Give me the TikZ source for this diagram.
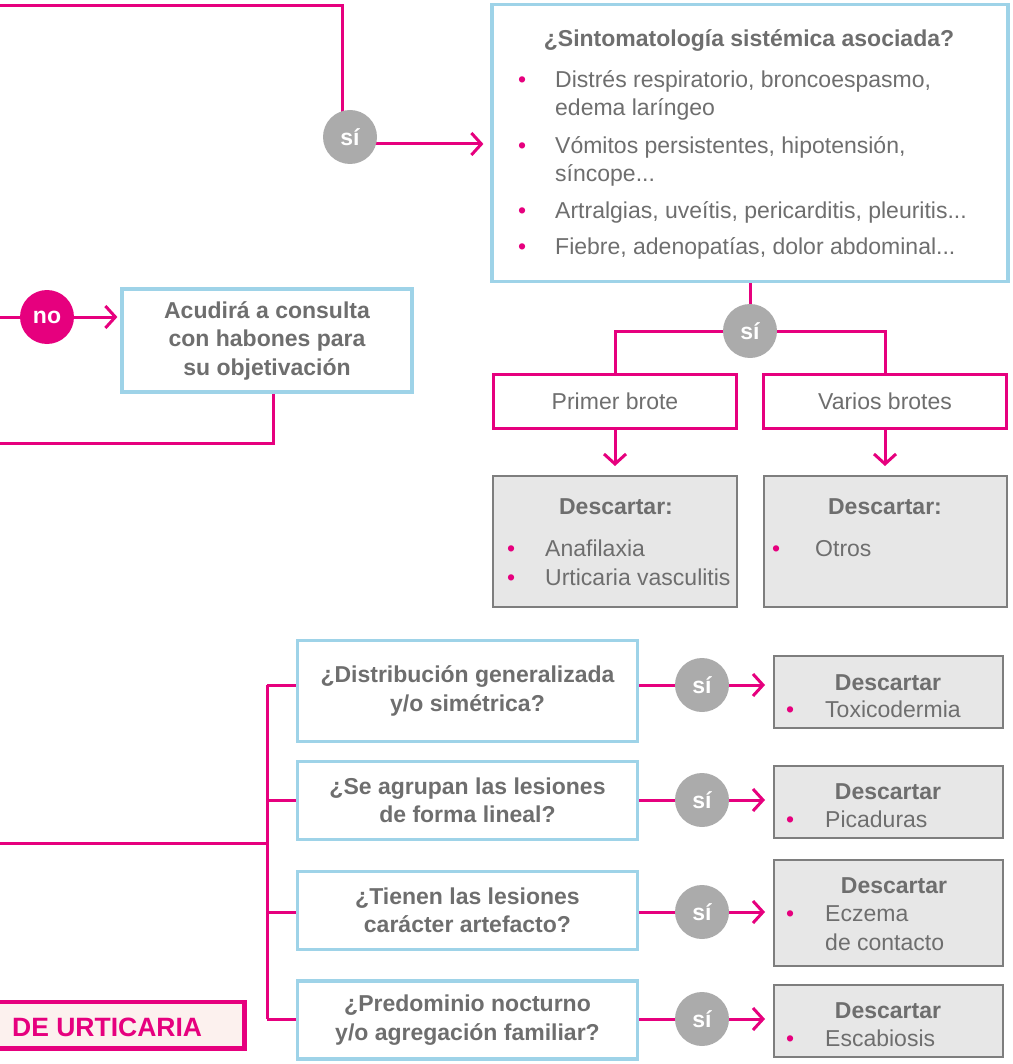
\documentclass[tikz,border=0pt]{standalone}
\usepackage{fontspec}
\setmainfont{Liberation Sans}
\usetikzlibrary{positioning, arrows.meta, backgrounds}

\definecolor{urpink}{HTML}{E6007E}
\definecolor{urblue}{HTML}{9ED3E8}
\definecolor{urgrey}{HTML}{ABABAB}
\definecolor{urtext}{HTML}{6E6E6E}
\definecolor{urfill}{HTML}{E7E7E7}
\definecolor{urframe}{HTML}{7E7E7E}
\definecolor{urtint}{HTML}{FCF1EE}

\newcommand{\urfont}{\fontsize{23}{28.5}\selectfont}
\newcommand{\dotitem}[1][30pt]{\llap{\textcolor{urpink}{\textbullet}\hspace{#1}}}

\tikzset{
    link/.style={draw=urpink, line width=3pt}, % pink connector
    go/.style={link, -{Straight Barb[length=10pt, width=22pt]}, shorten >=8pt}, % connector with open head
    question/.style={draw=urblue, line width=3.2pt, fill=white, inner sep=0pt, text=urtext, font=\urfont\bfseries, align=center}, % blue question box
    branch/.style={draw=urpink, line width=3pt, fill=white, inner sep=0pt, minimum width=243pt, minimum height=54pt, text=urtext, font=\urfont}, % pink box
    ruleout/.style={draw=urframe, line width=2pt, fill=urfill, inner sep=0pt}, % grey box
    yes/.style={circle, fill=urgrey, text=white, font=\urfont\bfseries, minimum size=54pt, inner sep=0pt}, % answer bubble
    nobub/.style={yes, fill=urpink},
    boxhead/.style={anchor=base, inner sep=0pt, text=urtext, font=\urfont\bfseries},
    body/.style={anchor=base west, inner sep=0pt, align=left, text=urtext, font=\urfont}, % base = last line
    banner/.style={draw=urpink, line width=4.5pt, fill=urtint, inner sep=0pt},
}

\begin{document}
\begin{tikzpicture}[x=1pt, y=-1pt]
\useasboundingbox (0,0) rectangle (1012,1064);
\clip (0,0) rectangle (1012,1064);

% systemic symptoms
\node[question, minimum width=516pt, minimum height=277pt] (sint) at (750,143) {};
\node[boxhead] (sinttitle) at (749,47) {¿Sintomatología sistémica asociada?};
\node[body] (sint1) at (555,116) {\dotitem[29pt]Distrés respiratorio, broncoespasmo,\\edema laríngeo};
\node[body] (sint2) at (555,182) {\dotitem[29pt]Vómitos persistentes, hipotensión,\\síncope...};
\node[body] (sint3) at (555,219) {\dotitem[29pt]Artralgias, uveítis, pericarditis, pleuritis...};
\node[body] (sint4) at (555,255) {\dotitem[29pt]Fiebre, adenopatías, dolor abdominal...};
\node[yes] (yestop) at (350,137) {sí};

% no wheals
\node[nobub] (no) at (47,317) {no};
\node[question, minimum width=290pt, minimum height=103pt] (acud) at (267,340.5) {Acudirá a consulta\\con habones para\\su objetivación};

% outbreaks
\node[yes] (yesmid) at (750,331) {sí};
\node[branch] (primer) at (615,401.5) {Primer brote};
\node[branch, right=24pt of primer] (varios) {Varios brotes};
\node[ruleout, minimum width=244pt, minimum height=131pt, below=45pt of primer] (dx1) {};
\node[ruleout, minimum width=243pt, minimum height=131pt, below=45pt of varios] (dx2) {};
\node[boxhead] (dx1head) at (616,514) {Descartar:};
\node[body] (dx1list) at (545,585) {\dotitem Anafilaxia\\\dotitem Urticaria vasculitis};
\node[boxhead] (dx2head) at (885,514) {Descartar:};
\node[body] (dx2list) at (815,556) {\dotitem[35pt]Otros};

% questions
\node[question, minimum width=340pt, minimum height=101pt] (q1) at (467.5,691) {¿Distribución generalizada\\y/o simétrica?};
\node[question, minimum width=340pt, minimum height=78pt] (q2) at (467.5,800.5) {¿Se agrupan las lesiones\\de forma lineal?};
\node[question, minimum width=340pt, minimum height=78pt] (q3) at (467.5,910.5) {¿Tienen las lesiones\\carácter artefacto?};
\node[question, minimum width=340pt, minimum height=78pt] (q4) at (467.5,1020) {¿Predominio nocturno\\y/o agregación familiar?};
\node[yes] (yes1) at (702,685) {sí};
\node[yes] (yes2) at (702,800) {sí};
\node[yes] (yes3) at (702,912) {sí};
\node[yes] (yes4) at (702,1019) {sí};
\node[ruleout, minimum width=229pt, minimum height=72pt] (r1) at (888.5,692) {};
\node[ruleout, minimum width=229pt, minimum height=72pt] (r2) at (888.5,802) {};
\node[ruleout, minimum width=229pt, minimum height=106pt] (r3) at (888.5,913) {};
\node[ruleout, minimum width=229pt, minimum height=72pt] (r4) at (888.5,1021) {};
\node[boxhead] (r1head) at (888,690) {Descartar};
\node[body] (r1list) at (825,717) {\dotitem[31pt]Toxicodermia};
\node[boxhead] (r2head) at (888,799) {Descartar};
\node[body] (r2list) at (825,827) {\dotitem[31pt]Picaduras};
\node[boxhead] (r3head) at (894,893) {Descartar};
\node[body] (r3list) at (825,950) {\dotitem[31pt]Eczema\\de contacto};
\node[boxhead] (r4head) at (888,1018) {Descartar};
\node[body] (r4list) at (825,1046) {\dotitem[31pt]Escabiosis};

% title
\node[banner, minimum width=345pt, minimum height=46.5pt] (title) at (72,1025) {};
\node[anchor=base west, inner sep=0pt, text=urpink, font=\fontsize{26.5}{30}\selectfont\bfseries] (titletext) at (12,1036.5) {DE URTICARIA};

\begin{scope}[on background layer]
\coordinate (topin) at (0,6);
\coordinate (noin) at (0,317);
\coordinate (back) at (0,443);
\coordinate (fork) at (0,843);
\coordinate (trunk) at (267,843);
\draw[link] (topin) -| ([xshift=-8pt]yestop.center);
\draw[go, shorten >=7pt] ([yshift=-7pt]yestop.center) -- ([yshift=-7pt]yestop.center -| sint.west);
\draw[link] (noin) -- (no);
\draw[go, shorten >=3pt] (no) -- (no -| acud.west);
\draw[link] ([xshift=6pt]acud.south) |- (back);
\draw[link] (sint) -- (yesmid);
\draw[link] (primer) |- (yesmid) -| (varios);
\draw[go, shorten >=9pt] (primer) -- (dx1.north);
\draw[go, shorten >=9pt] (varios) -- (dx2.north);
\draw[link] (fork) -- (trunk);
\draw[link] (yes1 -| trunk) -- (yes4 -| trunk);
\draw (yes1 -| trunk) edge[link] (yes1)
      (yes2 -| trunk) edge[link] (yes2)
      (yes3 -| trunk) edge[link] (yes3)
      (yes4 -| trunk) edge[link] (yes4)
      (yes1) edge[go] (yes1 -| r1.west)
      (yes2) edge[go] (yes2 -| r2.west)
      (yes3) edge[go] (yes3 -| r3.west)
      (yes4) edge[go] (yes4 -| r4.west);
\end{scope}
\end{tikzpicture}
\end{document}
